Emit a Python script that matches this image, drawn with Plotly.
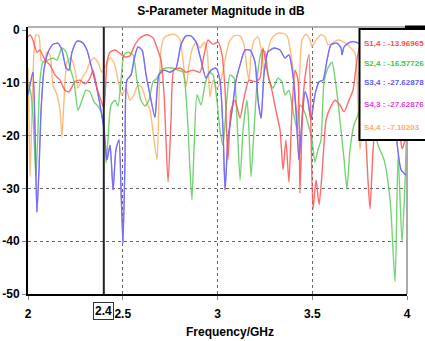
import plotly.graph_objects as go

# ---------------- data (frequency in GHz, magnitude in dB) ----------------
freq_s14 = [2.000, 2.011, 2.026, 2.047, 2.063, 2.090, 2.116, 2.142, 2.169, 2.195, 2.216, 2.248, 2.274, 2.301,
            2.327, 2.343, 2.364, 2.385, 2.401, 2.417, 2.433, 2.459, 2.485, 2.512, 2.538, 2.564, 2.591, 2.628,
            2.660, 2.681, 2.702, 2.718, 2.739, 2.755, 2.770, 2.802, 2.834, 2.870, 2.908, 2.929, 2.950, 2.976,
            3.003, 3.024, 3.040, 3.055, 3.071, 3.092, 3.119, 3.140, 3.166, 3.198, 3.224, 3.240, 3.261, 3.287,
            3.308, 3.330, 3.346, 3.361, 3.377, 3.393, 3.409, 3.425, 3.435, 3.451, 3.467, 3.483, 3.493, 3.504,
            3.520, 3.536, 3.551, 3.573, 3.594, 3.620, 3.646, 3.668, 3.694, 3.715, 3.736, 3.752, 3.773, 3.794,
            3.805, 3.821, 3.847, 3.884, 3.921, 3.953, 3.974, 3.990, 4.000]
db_s14 = [-1.3, -0.9, -1.9, -4.2, -3.8, -5.7, -6.6, -8.5, -9.5, -11.4, -11.7, -9.8, -9.5, -10.2,
          -9.1, -7.6, -11.0, -13.3, -14.8, -6.1, -4.2, -3.8, -4.4, -5.1, -4.9, -2.8, -1.5, -0.9,
          -1.5, -3.4, -5.7, -12.3, -28.8, -17.0, -7.6, -7.2, -8.0, -7.6, -8.0, -4.7, -1.9, -2.7,
          -2.3, -4.7, -11.4, -24.6, -15.2, -13.3, -16.7, -12.9, -9.5, -9.8, -9.1, -3.4, -7.6, -11.4,
          -15.2, -18.9, -26.5, -20.8, -28.8, -15.2, -7.6, -9.5, -30.9, -13.3, -7.6, -4.7, -18.9, -33.9,
          -28.4, -33.1, -27.5, -17.0, -14.8, -13.3, -14.2, -15.5, -13.3, -11.4, -5.7, -2.8, -13.3, -28.4,
          -33.9, -22.7, -13.3, -11.4, -15.2, -17.0, -22.5, -20.8, -13.97]

freq_s24 = [2.000, 2.016, 2.026, 2.037, 2.042, 2.053, 2.063, 2.079, 2.106, 2.132, 2.153, 2.179, 2.201, 2.222,
            2.243, 2.264, 2.285, 2.306, 2.327, 2.348, 2.369, 2.385, 2.401, 2.412, 2.422, 2.438, 2.459, 2.475,
            2.491, 2.506, 2.527, 2.554, 2.575, 2.596, 2.617, 2.638, 2.660, 2.681, 2.702, 2.728, 2.760, 2.792,
            2.818, 2.839, 2.855, 2.865, 2.876, 2.892, 2.913, 2.934, 2.955, 2.976, 2.997, 3.013, 3.029, 3.045,
            3.066, 3.087, 3.103, 3.119, 3.135, 3.156, 3.166, 3.177, 3.193, 3.214, 3.235, 3.251, 3.272, 3.293,
            3.319, 3.340, 3.356, 3.377, 3.398, 3.420, 3.435, 3.456, 3.472, 3.499, 3.514, 3.530, 3.546, 3.562,
            3.583, 3.604, 3.625, 3.646, 3.668, 3.683, 3.699, 3.720, 3.741, 3.763, 3.815, 3.847, 3.879, 3.911,
            3.937, 3.953, 3.974, 3.990, 4.000]
db_s24 = [-9.8, -12.3, -16.1, -24.6, -27.8, -18.9, -9.5, -6.1, -5.7, -5.3, -5.7, -3.4, -4.2, -7.2,
          -9.8, -15.2, -13.3, -11.4, -11.7, -13.6, -14.4, -15.5, -18.0, -25.2, -20.8, -14.2, -13.3, -14.4,
          -9.5, -4.7, -4.2, -4.7, -9.5, -13.3, -14.4, -13.3, -9.8, -9.1, -7.6, -7.2, -7.2, -7.6,
          -8.0, -15.2, -26.5, -32.2, -22.7, -12.3, -14.2, -10.4, -8.0, -8.5, -13.3, -18.9, -21.8, -15.2,
          -8.5, -9.1, -17.0, -28.4, -18.9, -13.3, -18.9, -27.8, -18.9, -7.6, -3.8, -4.2, -9.5, -11.0,
          -9.1, -9.8, -12.3, -11.4, -15.2, -18.9, -14.2, -15.2, -17.0, -20.8, -25.0, -22.7, -20.8, -9.8,
          -7.2, -6.1, -10.4, -17.0, -24.6, -30.1, -22.7, -18.0, -16.1, -13.3, -17.0, -21.8, -24.6, -32.2,
          -47.7, -23.7, -40.2, -28.4, -16.58]

freq_s34 = [2.000, 2.016, 2.026, 2.037, 2.047, 2.058, 2.069, 2.084, 2.106, 2.132, 2.158, 2.179, 2.201, 2.216,
            2.232, 2.259, 2.285, 2.311, 2.332, 2.359, 2.380, 2.401, 2.417, 2.433, 2.449, 2.464, 2.480, 2.491,
            2.501, 2.512, 2.522, 2.544, 2.559, 2.580, 2.602, 2.623, 2.644, 2.670, 2.691, 2.718, 2.749, 2.781,
            2.807, 2.834, 2.860, 2.887, 2.913, 2.939, 2.966, 2.992, 3.013, 3.029, 3.040, 3.055, 3.077, 3.098,
            3.119, 3.145, 3.172, 3.198, 3.214, 3.230, 3.245, 3.266, 3.298, 3.330, 3.356, 3.377, 3.398, 3.414,
            3.430, 3.446, 3.462, 3.477, 3.493, 3.514, 3.536, 3.557, 3.578, 3.599, 3.631, 3.652, 3.657, 3.668,
            3.699, 3.731, 3.752, 3.805, 3.884, 3.937, 3.969, 4.000]
db_s34 = [-12.3, -9.5, -8.0, -18.9, -34.5, -26.5, -15.2, -7.6, -4.2, -2.7, -2.5, -3.8, -7.2, -7.6,
          -4.2, -2.1, -2.3, -3.8, -6.6, -10.4, -14.2, -18.9, -24.6, -21.8, -30.3, -22.7, -20.8, -30.3,
          -40.3, -24.6, -9.5, -8.5, -5.7, -3.2, -3.8, -8.5, -12.3, -16.5, -8.5, -7.6, -8.0, -7.2,
          -2.8, -1.1, -1.1, -2.3, -5.7, -9.1, -7.6, -7.2, -9.5, -18.9, -30.3, -20.8, -15.2, -9.5,
          -6.6, -3.8, -3.8, -6.1, -13.3, -16.7, -8.5, -4.2, -3.4, -3.8, -5.3, -4.7, -8.5, -15.2,
          -24.6, -17.0, -11.7, -13.3, -17.0, -12.3, -9.8, -9.5, -5.7, -2.8, -2.5, -3.4, -4.7, -3.2,
          -2.3, -2.3, -2.8, -11.4, -13.3, -18.9, -26.5, -27.63]

freq_s43 = freq_s34
db_s43 = db_s34

freq_s44 = [2.000, 2.005, 2.011, 2.021, 2.032, 2.042, 2.058, 2.069, 2.084, 2.100, 2.116, 2.132, 2.153, 2.169,
            2.179, 2.190, 2.206, 2.227, 2.248, 2.264, 2.285, 2.306, 2.327, 2.348, 2.369, 2.390, 2.412, 2.433,
            2.454, 2.475, 2.496, 2.517, 2.538, 2.559, 2.580, 2.602, 2.623, 2.644, 2.665, 2.681, 2.691, 2.702,
            2.718, 2.749, 2.781, 2.802, 2.818, 2.834, 2.850, 2.865, 2.887, 2.908, 2.929, 2.945, 2.960, 2.976,
            2.997, 3.018, 3.040, 3.061, 3.087, 3.119, 3.140, 3.156, 3.166, 3.177, 3.193, 3.214, 3.235, 3.245,
            3.261, 3.282, 3.308, 3.340, 3.367, 3.388, 3.404, 3.420, 3.430, 3.446, 3.467, 3.488, 3.499, 3.520,
            3.546, 3.567, 3.583, 3.604, 3.636, 3.668, 3.699, 3.726, 3.741, 3.752, 3.800, 3.900, 4.000]
db_s44 = [-7.2, -17.0, -27.8, -15.2, -3.8, -0.9, -1.1, -5.7, -6.1, -4.2, -4.7, -10.4, -12.3, -15.2,
          -20.3, -13.3, -6.1, -5.3, -7.6, -11.0, -9.1, -8.0, -6.1, -5.3, -6.1, -8.0, -6.6, -5.3,
          -6.1, -9.5, -12.3, -11.0, -13.3, -12.3, -10.4, -11.0, -13.3, -15.2, -20.8, -24.6, -13.3, -3.8,
          -1.5, -0.9, -0.9, -1.9, -5.7, -10.8, -6.6, -3.8, -2.3, -3.4, -2.3, -3.8, -12.7, -9.5,
          -11.0, -9.5, -5.7, -2.3, -1.1, -1.1, -2.8, -7.6, -9.5, -4.7, -1.9, -1.3, -4.7, -8.0,
          -4.7, -1.9, -0.8, -0.6, -1.1, -4.7, -9.5, -17.0, -11.4, -1.9, -0.8, -1.9, -3.2, -1.9,
          -0.9, -1.3, -2.8, -2.5, -1.9, -2.3, -3.2, -4.5, -13.3, -22.7, -9.0, -6.0, -7.10]

series_names = ["S4,4", "S2,4", "S4,3", "S3,4", "S1,4"]
legend_names = ["S1,4", "S2,4", "S3,4", "S4,3", "S4,4"]
legend_values = ["-13.96965", "-16.57726", "-27.62878", "-27.62876", "-7.10203"]

x_tick_vals = [2, 2.5, 3, 3.5, 4]
x_tick_text = ["2", "2.5", "3", "3.5", "4"]
y_tick_vals = [0, -10, -20, -30, -40, -50]
y_tick_text = ["0", "-10", "-20", "-30", "-40", "-50"]
marker_freq = 2.4

# ---------------- styling ----------------
line_colors = {
    "S1,4": "rgba(255,80,80,0.85)",
    "S2,4": "rgba(90,205,90,0.85)",
    "S3,4": "rgb(112,112,250)",
    "S4,3": "rgba(220,60,220,0.6)",
    "S4,4": "rgba(255,175,100,0.85)",
}
line_widths = {"S1,4": 1.4, "S2,4": 1.4, "S3,4": 1.4, "S4,3": 1.0, "S4,4": 1.4}
text_colors = {
    "S1,4": "#ff4a4a",
    "S2,4": "#3cc83c",
    "S3,4": "#5a5aff",
    "S4,3": "#e040e0",
    "S4,4": "#ffaa66",
}
data = {
    "S1,4": (freq_s14, db_s14),
    "S2,4": (freq_s24, db_s24),
    "S3,4": (freq_s34, db_s34),
    "S4,3": (freq_s43, db_s43),
    "S4,4": (freq_s44, db_s44),
}

fig = go.Figure()
for name in series_names:
    fx, fy = data[name]
    fig.add_trace(go.Scatter(x=fx, y=fy, mode="lines", name=name,
                             line=dict(color=line_colors[name], width=line_widths[name],
                                       shape="spline", smoothing=0.6)))

W, H = 425, 341
ML, MR, MT, MB = 28, 18, 27, 47
PW, PH = W - ML - MR, H - MT - MB

def px_x(px):
    return (px - ML) / PW

def px_y(py):
    return (H - MB - py) / PH

bold12 = dict(family="Arial", size=12, color="black", weight="bold")

fig.update_layout(
    width=W, height=H,
    margin=dict(l=ML, r=MR, t=MT, b=MB, pad=0, autoexpand=False),
    plot_bgcolor="white", paper_bgcolor="white",
    showlegend=False,
    title=dict(text="S-Parameter Magnitude in dB", x=221 / W, xanchor="center",
               y=1 - 11 / H, yanchor="middle", font=bold12, automargin=False),
    xaxis=dict(range=[2, 4], tickmode="array", tickvals=x_tick_vals, ticktext=x_tick_text,
               showgrid=False, zeroline=False, ticks="outside", ticklen=4, tickcolor="#888",
               showline=True, linecolor="black", linewidth=2, tickfont=bold12,
               ticklabelstandoff=4, automargin=False,
               minor=dict(tickmode="array", tickvals=[2.5, 3, 3.5], showgrid=True,
                          gridcolor="#666", griddash="dot", gridwidth=1.3, ticks="")),
    yaxis=dict(range=[-50, 0.57], tickmode="array", tickvals=y_tick_vals, ticktext=y_tick_text,
               showgrid=False, zeroline=False, ticks="outside", ticklen=4, tickcolor="#888",
               showline=True, linecolor="black", linewidth=2, tickfont=bold12,
               automargin=False,
               minor=dict(tickmode="array", tickvals=[-10, -20, -30, -40], showgrid=True,
                          gridcolor="#666", griddash="dot", gridwidth=1.3, ticks="")),
)

shapes = [
    # top and right frame lines
    dict(type="line", xref="paper", yref="paper", x0=0, x1=1, y0=1, y1=1,
         line=dict(color="#999", width=1.5), layer="above"),
    dict(type="line", xref="paper", yref="paper", x0=1, x1=1, y0=0, y1=1,
         line=dict(color="#aaa", width=2), layer="above"),
    # marker line
    dict(type="line", xref="x", yref="paper", x0=marker_freq, x1=marker_freq, y0=0, y1=1,
         line=dict(color="#222", width=2), layer="above"),
    # legend box
    dict(type="rect", xref="paper", yref="paper", x0=px_x(359.5), x1=px_x(440),
         y0=px_y(140), y1=px_y(29), fillcolor="white",
         line=dict(color="black", width=2), layer="above"),
    dict(type="line", xref="paper", yref="paper", x0=px_x(405), x1=px_x(440),
         y0=px_y(27), y1=px_y(27), line=dict(color="black", width=3), layer="above"),
]
fig.update_layout(shapes=shapes)

annotations = []
legend_y_px = [43, 63, 83, 104, 127]
for nm, val, ypx in zip(legend_names, legend_values, legend_y_px):
    annotations.append(dict(xref="paper", yref="paper", x=px_x(362), y=px_y(ypx),
                            xanchor="left", yanchor="middle", showarrow=False,
                            text=f"{nm} : {val}",
                            font=dict(family="Arial", size=8, color=text_colors[nm], weight="bold")))
annotations.append(dict(xref="x", yref="paper", x=marker_freq, y=px_y(311),
                        xanchor="center", yanchor="middle", showarrow=False, text="2.4",
                        font=bold12, bordercolor="#333", borderwidth=1, borderpad=1,
                        bgcolor="white"))
annotations.append(dict(xref="paper", yref="paper", x=px_x(230), y=px_y(332),
                        xanchor="center", yanchor="middle", showarrow=False,
                        text="Frequency/GHz", font=bold12))
fig.update_layout(annotations=annotations)

fig.write_html("out.html", config={"displayModeBar": False},
               post_script="document.body.style.margin='0';document.body.style.padding='0';")
